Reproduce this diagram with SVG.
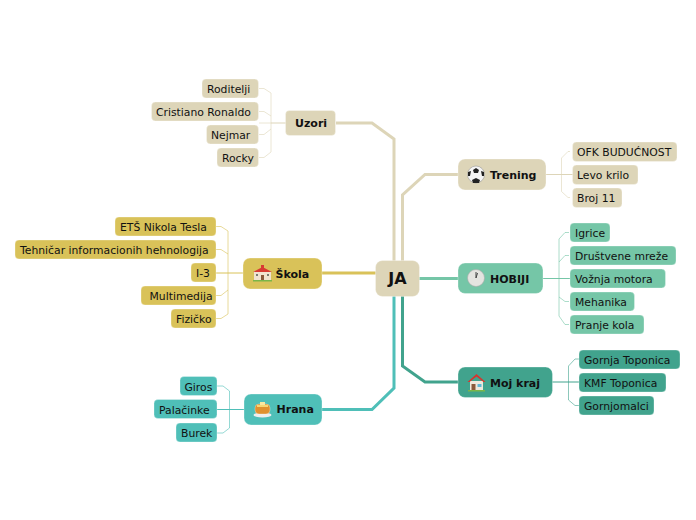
<svg xmlns="http://www.w3.org/2000/svg" width="696" height="520" viewBox="0 0 696 520">
<style>
text{font-family:"DejaVu Sans","Liberation Sans",sans-serif;fill:#111}
.l{font-size:10.8px}
.m{font-size:11px;font-weight:bold}
.r{font-size:16px;font-weight:bold}
rect{stroke:#fff;stroke-opacity:.3;stroke-width:1}
.sand{fill:#ddd5b8}.yel{fill:#d9c259}.mint{fill:#75c6a7}.dark{fill:#41a38d}.teal{fill:#4fbfb8}
path.c{fill:none;stroke-width:3}
path.b{fill:none;stroke-width:1}
path.p{fill:none;stroke-width:1;stroke-opacity:.6}
</style>
<g id="connectors">
<path class="c" stroke="#ddd5b8" d="M336 123H372L394 139V261"/>
<path class="c" stroke="#ddd5b8" d="M402.500 261V195L425 174.500H458"/>
<path class="c" stroke="#d9c259" d="M322 273H376"/>
<path class="c" stroke="#75c6a7" d="M419 278.500H458"/>
<path class="c" stroke="#41a38d" d="M402.500 296V366L425 382H458"/>
<path class="c" stroke="#4fbfb8" d="M322 409.500H372L394 388V296"/>
<g stroke="#ddd5b8"><path class="b" d="M546 174.500H573"/><path class="p" d="M570 151.500H568L561.500 158V191.500L568 197.500H570"/>
<path class="b" d="M286 123H271"/><path class="p" d="M271 123H259M259 88.500H264L271 93V152L264 157.500H259M259 111.500H264L271 116M259 134.500H264L271 129"/></g>
<g stroke="#d9c259"><path class="b" d="M243 273H216"/><path class="p" d="M216 226.500H221L228 231V314L221 318.500H216M216 249.500H221L228 254M216 295.500H221L228 290"/></g>
<g stroke="#75c6a7"><path class="b" d="M543 278.500H570"/><path class="p" d="M569 232.500H565L559 239V316L565 324.500H569M569 255.500H565L559 262M569 301.500H565L559 297"/></g>
<g stroke="#41a38d"><path class="b" d="M552 382H579"/><path class="p" stroke-opacity=".8" d="M579 359H575L568.500 366V400L575 405.500H579"/></g>
<g stroke="#4fbfb8"><path class="b" d="M244 409.500H217"/><path class="p" d="M217 386H223L229.500 391V428L223 433H217"/></g>
</g>
<g id="root"><rect class="sand" x="375.500" y="260.500" width="44" height="36" rx="7"/><text class="r" x="397.500" y="284" text-anchor="middle">JA</text></g>
<g id="uzori"><rect class="sand" x="285.500" y="110.500" width="50" height="25" rx="4"/><text class="m" x="295" y="127">Uzori</text></g>
<g id="trening"><rect class="sand" x="458" y="159" width="88" height="31" rx="7"/><text class="m" x="490" y="179">Trening</text>
<g id="icon-ball"><circle cx="476" cy="174.500" r="8.500" fill="#f4f4f4" stroke="#888" stroke-width=".5"/><path fill="#222" d="M473 170l3-2 3 2-1 3h-4zM468 172l3-1-1 5-2 0zM484 172l-3-1 1 5 2 0zM472 180l4-2 4 2-1 3h-6z"/></g></g>
<g id="hobiji"><rect class="mint" x="458" y="263" width="85" height="30.500" rx="7"/><text class="m" x="490" y="283">HOBIJI</text>
<g id="icon-clock"><circle cx="476" cy="278" r="8.500" fill="#e4e4e0" stroke="#aaa" stroke-width=".6"/><path d="M476 278V272M476 278L477.500 273" stroke="#444" stroke-width="1" fill="none"/></g></g>
<g id="moj-kraj"><rect class="dark" x="458" y="367" width="94.500" height="30.500" rx="7"/><text class="m" x="490" y="387">Moj kraj</text>
<g id="icon-home"><path fill="#efe9dc" d="M470 381h13v9h-13z"/><path fill="#d9332c" d="M467.500 382L476.500 374 485.500 382 483.500 382 476.500 376.500 469.500 382z"/><path fill="#8a5a3c" d="M471.500 384h4v6h-4z"/><path fill="#5fb8d8" d="M477.500 384h4v3h-4z"/><path fill="#7ab648" d="M468 390h17v1.500h-17z"/></g></g>
<g id="skola"><rect class="yel" x="243" y="258" width="79" height="31" rx="7"/><text class="m" x="275.500" y="277.500">Škola</text>
<g id="icon-school"><path fill="#f1e3cf" d="M254 271h17v9h-17z"/><path fill="#d93a32" d="M253 272L262.500 267 272 272zM261 265h3v3h-3z"/><path fill="#8a5a3c" d="M261 275h3v5h-3z"/><path fill="#7a7a70" d="M256 274h2v2h-2zM267 274h2v2h-2z"/><path fill="#7ab648" d="M253 280h19v1.500h-19z"/></g></g>
<g id="hrana"><rect class="teal" x="244" y="394" width="78" height="31" rx="7"/><text class="m" x="276.500" y="413">Hrana</text>
<g id="icon-pancake"><ellipse cx="262.500" cy="415" rx="9" ry="2.500" fill="#eee"/><rect x="255" y="404" width="15" height="10" rx="4" fill="#e0912f" stroke="none"/><path fill="#f7d774" d="M257 405h11v2h-11z"/><path fill="#f9e8a0" d="M260 402h5v3h-5z"/></g></g>
<g id="n-ofk"><rect class="sand" x="572.500" y="142" width="104.500" height="19.500" rx="4"/><text class="l" x="577" y="156">OFK BUDUĆNOST</text></g>
<g id="n-levo"><rect class="sand" x="572.500" y="165" width="65.500" height="19.500" rx="4"/><text class="l" x="577" y="179">Levo krilo</text></g>
<g id="n-broj"><rect class="sand" x="572.500" y="188" width="49.500" height="19.500" rx="4"/><text class="l" x="577" y="202">Broj 11</text></g>
<g id="n-igrice"><rect class="mint" x="570" y="223" width="40" height="19" rx="4"/><text class="l" x="575" y="237">Igrice</text></g>
<g id="n-drustvene"><rect class="mint" x="570" y="246" width="106" height="19" rx="4"/><text class="l" x="575" y="260">Društvene mreže</text></g>
<g id="n-voznja"><rect class="mint" x="570" y="269" width="95.500" height="19" rx="4"/><text class="l" x="575" y="283">Vožnja motora</text></g>
<g id="n-mehanika"><rect class="mint" x="570" y="292" width="64.500" height="19" rx="4"/><text class="l" x="575" y="306">Mehanika</text></g>
<g id="n-pranje"><rect class="mint" x="570" y="315" width="74" height="19" rx="4"/><text class="l" x="575" y="329">Pranje kola</text></g>
<g id="n-gornja"><rect class="dark" x="579" y="350" width="101" height="19" rx="4"/><text class="l" x="584" y="364">Gornja Toponica</text></g>
<g id="n-kmf"><rect class="dark" x="579" y="373" width="87" height="19" rx="4"/><text class="l" x="584" y="387">KMF Toponica</text></g>
<g id="n-gornjomalci"><rect class="dark" x="579" y="396" width="75" height="19" rx="4"/><text class="l" x="584" y="410">Gornjomalci</text></g>
<g id="n-roditelji"><rect class="sand" x="202" y="79" width="56.500" height="19" rx="4"/><text class="l" x="207" y="93">Roditelji</text></g>
<g id="n-cristiano"><rect class="sand" x="151.500" y="102" width="107" height="19" rx="4"/><text class="l" x="156" y="116">Cristiano Ronaldo</text></g>
<g id="n-nejmar"><rect class="sand" x="206.500" y="125" width="52" height="19" rx="4"/><text class="l" x="211" y="139">Nejmar</text></g>
<g id="n-rocky"><rect class="sand" x="217" y="148" width="41.500" height="19" rx="4"/><text class="l" x="222" y="162">Rocky</text></g>
<g id="n-ets"><rect class="yel" x="115" y="217" width="101" height="19" rx="4"/><text class="l" x="120" y="231">ETŠ Nikola Tesla</text></g>
<g id="n-tehnicar"><rect class="yel" x="15" y="240" width="201" height="19" rx="4"/><text class="l" x="20" y="254">Tehničar informacionih hehnologija</text></g>
<g id="n-i3"><rect class="yel" x="191" y="263" width="25" height="19" rx="4"/><text class="l" x="196" y="277">I-3</text></g>
<g id="n-multimedija"><rect class="yel" x="141" y="286" width="75" height="19" rx="4"/><text class="l" x="149.500" y="300">Multimedija</text></g>
<g id="n-fizicko"><rect class="yel" x="171" y="309" width="45" height="19" rx="4"/><text class="l" x="176" y="323">Fizičko</text></g>
<g id="n-giros"><rect class="teal" x="180" y="376.500" width="37" height="19" rx="4"/><text class="l" x="184.500" y="390.500">Giros</text></g>
<g id="n-palacinke"><rect class="teal" x="154" y="399.500" width="63" height="19" rx="4"/><text class="l" x="159" y="413.500">Palačinke</text></g>
<g id="n-burek"><rect class="teal" x="176" y="423" width="41" height="19" rx="4"/><text class="l" x="181" y="437">Burek</text></g>
</svg>
